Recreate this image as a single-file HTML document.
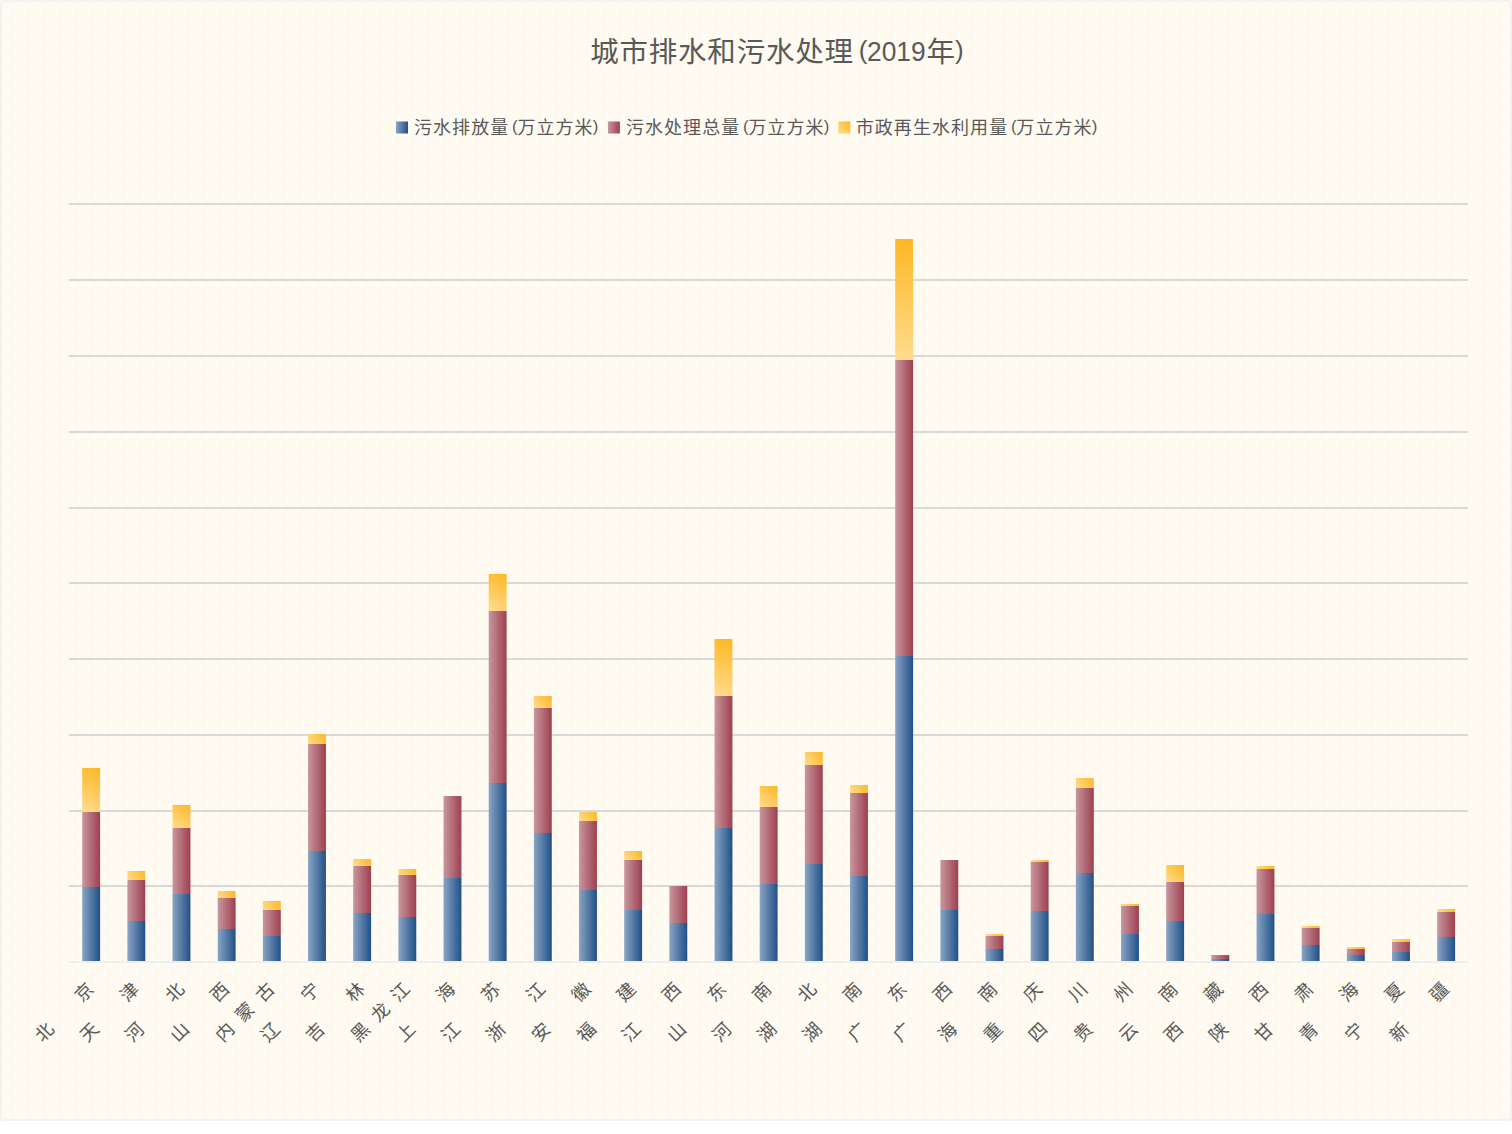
<!DOCTYPE html>
<html lang="zh-CN"><head><meta charset="utf-8"><title>城市排水和污水处理(2019年)</title>
<style>html,body{margin:0;padding:0;background:#fff;}body{width:1512px;height:1134px;overflow:hidden;}svg{display:block;}text{font-family:"Liberation Sans", "Noto Sans CJK SC", sans-serif;fill:#595959;}</style></head><body>
<svg width="1512" height="1134" viewBox="0 0 1512 1134">
<defs>
<pattern id="divot" x="0" y="0" width="16" height="16" patternUnits="userSpaceOnUse"><rect width="16" height="16" fill="#FEFAF0"/>
<rect x="8" y="8" width="2" height="2" fill="#FFFFFF"/>
<rect x="6" y="10" width="2" height="2" fill="#FFFFFF"/>
<rect x="8" y="12" width="2" height="2" fill="#FFFFFF"/>
<rect x="14" y="0" width="2" height="2" fill="#FFFFFF"/>
<rect x="0" y="2" width="2" height="2" fill="#FFFFFF"/>
<rect x="14" y="4" width="2" height="2" fill="#FFFFFF"/>
</pattern>
<linearGradient id="gB" x1="0" y1="0" x2="1" y2="0"><stop offset="0" stop-color="#8AA5C3"/><stop offset="1" stop-color="#205088"/></linearGradient>
<linearGradient id="gR" x1="0" y1="0" x2="1" y2="0"><stop offset="0" stop-color="#C8989F"/><stop offset="1" stop-color="#9E3F4F"/></linearGradient>
<linearGradient id="gY" x1="0" y1="1" x2="1" y2="0"><stop offset="0" stop-color="#FFDC8E"/><stop offset="1" stop-color="#FDB724"/></linearGradient>
</defs>
<rect x="0" y="0" width="1512" height="1121" rx="2" ry="2" fill="#F2F2F2"/>
<rect x="2" y="2" width="1508" height="1117" fill="url(#divot)"/>
<rect x="69" y="203" width="1399" height="2" fill="#D9D9D9"/>
<rect x="69" y="279" width="1399" height="2" fill="#D9D9D9"/>
<rect x="69" y="355" width="1399" height="2" fill="#D9D9D9"/>
<rect x="69" y="431" width="1399" height="2" fill="#D9D9D9"/>
<rect x="69" y="507" width="1399" height="2" fill="#D9D9D9"/>
<rect x="69" y="582" width="1399" height="2" fill="#D9D9D9"/>
<rect x="69" y="658" width="1399" height="2" fill="#D9D9D9"/>
<rect x="69" y="734" width="1399" height="2" fill="#D9D9D9"/>
<rect x="69" y="810" width="1399" height="2" fill="#D9D9D9"/>
<rect x="69" y="885" width="1399" height="2" fill="#D9D9D9"/>
<rect x="69" y="961" width="1399" height="2" fill="#EEEEEE"/>
<g>
<rect x="82.20" y="887" width="17.90" height="74" fill="url(#gB)"/>
<rect x="82.20" y="812" width="17.90" height="75" fill="url(#gR)"/>
<linearGradient id="y0" gradientUnits="userSpaceOnUse" x1="82.20" y1="812" x2="100.10" y2="768"><stop offset="0" stop-color="#FFDC8E"/><stop offset="1" stop-color="#FDB724"/></linearGradient>
<rect x="82.20" y="768" width="17.90" height="44" fill="url(#y0)"/>
</g>
<g>
<rect x="127.37" y="921" width="17.90" height="40" fill="url(#gB)"/>
<rect x="127.37" y="880" width="17.90" height="41" fill="url(#gR)"/>
<linearGradient id="y1" gradientUnits="userSpaceOnUse" x1="127.37" y1="880" x2="145.27" y2="871"><stop offset="0" stop-color="#FFDC8E"/><stop offset="1" stop-color="#FDB724"/></linearGradient>
<rect x="127.37" y="871" width="17.90" height="9" fill="url(#y1)"/>
</g>
<g>
<rect x="172.53" y="894" width="17.90" height="67" fill="url(#gB)"/>
<rect x="172.53" y="828" width="17.90" height="66" fill="url(#gR)"/>
<linearGradient id="y2" gradientUnits="userSpaceOnUse" x1="172.53" y1="828" x2="190.43" y2="805"><stop offset="0" stop-color="#FFDC8E"/><stop offset="1" stop-color="#FDB724"/></linearGradient>
<rect x="172.53" y="805" width="17.90" height="23" fill="url(#y2)"/>
</g>
<g>
<rect x="217.70" y="929" width="17.90" height="32" fill="url(#gB)"/>
<rect x="217.70" y="898" width="17.90" height="31" fill="url(#gR)"/>
<linearGradient id="y3" gradientUnits="userSpaceOnUse" x1="217.70" y1="898" x2="235.60" y2="891"><stop offset="0" stop-color="#FFDC8E"/><stop offset="1" stop-color="#FDB724"/></linearGradient>
<rect x="217.70" y="891" width="17.90" height="7" fill="url(#y3)"/>
</g>
<g>
<rect x="262.87" y="936" width="17.90" height="25" fill="url(#gB)"/>
<rect x="262.87" y="910" width="17.90" height="26" fill="url(#gR)"/>
<linearGradient id="y4" gradientUnits="userSpaceOnUse" x1="262.87" y1="910" x2="280.77" y2="901"><stop offset="0" stop-color="#FFDC8E"/><stop offset="1" stop-color="#FDB724"/></linearGradient>
<rect x="262.87" y="901" width="17.90" height="9" fill="url(#y4)"/>
</g>
<g>
<rect x="308.03" y="851" width="17.90" height="110" fill="url(#gB)"/>
<rect x="308.03" y="744" width="17.90" height="107" fill="url(#gR)"/>
<linearGradient id="y5" gradientUnits="userSpaceOnUse" x1="308.03" y1="744" x2="325.93" y2="734"><stop offset="0" stop-color="#FFDC8E"/><stop offset="1" stop-color="#FDB724"/></linearGradient>
<rect x="308.03" y="734" width="17.90" height="10" fill="url(#y5)"/>
</g>
<g>
<rect x="353.20" y="913" width="17.90" height="48" fill="url(#gB)"/>
<rect x="353.20" y="866" width="17.90" height="47" fill="url(#gR)"/>
<linearGradient id="y6" gradientUnits="userSpaceOnUse" x1="353.20" y1="866" x2="371.10" y2="859"><stop offset="0" stop-color="#FFDC8E"/><stop offset="1" stop-color="#FDB724"/></linearGradient>
<rect x="353.20" y="859" width="17.90" height="7" fill="url(#y6)"/>
</g>
<g>
<rect x="398.37" y="917" width="17.90" height="44" fill="url(#gB)"/>
<rect x="398.37" y="875" width="17.90" height="42" fill="url(#gR)"/>
<linearGradient id="y7" gradientUnits="userSpaceOnUse" x1="398.37" y1="875" x2="416.27" y2="869"><stop offset="0" stop-color="#FFDC8E"/><stop offset="1" stop-color="#FDB724"/></linearGradient>
<rect x="398.37" y="869" width="17.90" height="6" fill="url(#y7)"/>
</g>
<g>
<rect x="443.53" y="878" width="17.90" height="83" fill="url(#gB)"/>
<rect x="443.53" y="796" width="17.90" height="82" fill="url(#gR)"/>
</g>
<g>
<rect x="488.70" y="783" width="17.90" height="178" fill="url(#gB)"/>
<rect x="488.70" y="611" width="17.90" height="172" fill="url(#gR)"/>
<linearGradient id="y9" gradientUnits="userSpaceOnUse" x1="488.70" y1="611" x2="506.60" y2="574"><stop offset="0" stop-color="#FFDC8E"/><stop offset="1" stop-color="#FDB724"/></linearGradient>
<rect x="488.70" y="574" width="17.90" height="37" fill="url(#y9)"/>
</g>
<g>
<rect x="533.87" y="833" width="17.90" height="128" fill="url(#gB)"/>
<rect x="533.87" y="708" width="17.90" height="125" fill="url(#gR)"/>
<linearGradient id="y10" gradientUnits="userSpaceOnUse" x1="533.87" y1="708" x2="551.77" y2="696"><stop offset="0" stop-color="#FFDC8E"/><stop offset="1" stop-color="#FDB724"/></linearGradient>
<rect x="533.87" y="696" width="17.90" height="12" fill="url(#y10)"/>
</g>
<g>
<rect x="579.03" y="890" width="17.90" height="71" fill="url(#gB)"/>
<rect x="579.03" y="821" width="17.90" height="69" fill="url(#gR)"/>
<linearGradient id="y11" gradientUnits="userSpaceOnUse" x1="579.03" y1="821" x2="596.93" y2="812"><stop offset="0" stop-color="#FFDC8E"/><stop offset="1" stop-color="#FDB724"/></linearGradient>
<rect x="579.03" y="812" width="17.90" height="9" fill="url(#y11)"/>
</g>
<g>
<rect x="624.20" y="910" width="17.90" height="51" fill="url(#gB)"/>
<rect x="624.20" y="860" width="17.90" height="50" fill="url(#gR)"/>
<linearGradient id="y12" gradientUnits="userSpaceOnUse" x1="624.20" y1="860" x2="642.10" y2="851"><stop offset="0" stop-color="#FFDC8E"/><stop offset="1" stop-color="#FDB724"/></linearGradient>
<rect x="624.20" y="851" width="17.90" height="9" fill="url(#y12)"/>
</g>
<g>
<rect x="669.37" y="923" width="17.90" height="38" fill="url(#gB)"/>
<rect x="669.37" y="886" width="17.90" height="37" fill="url(#gR)"/>
</g>
<g>
<rect x="714.53" y="828" width="17.90" height="133" fill="url(#gB)"/>
<rect x="714.53" y="696" width="17.90" height="132" fill="url(#gR)"/>
<linearGradient id="y14" gradientUnits="userSpaceOnUse" x1="714.53" y1="696" x2="732.43" y2="639"><stop offset="0" stop-color="#FFDC8E"/><stop offset="1" stop-color="#FDB724"/></linearGradient>
<rect x="714.53" y="639" width="17.90" height="57" fill="url(#y14)"/>
</g>
<g>
<rect x="759.70" y="884" width="17.90" height="77" fill="url(#gB)"/>
<rect x="759.70" y="807" width="17.90" height="77" fill="url(#gR)"/>
<linearGradient id="y15" gradientUnits="userSpaceOnUse" x1="759.70" y1="807" x2="777.60" y2="786"><stop offset="0" stop-color="#FFDC8E"/><stop offset="1" stop-color="#FDB724"/></linearGradient>
<rect x="759.70" y="786" width="17.90" height="21" fill="url(#y15)"/>
</g>
<g>
<rect x="804.87" y="864" width="17.90" height="97" fill="url(#gB)"/>
<rect x="804.87" y="765" width="17.90" height="99" fill="url(#gR)"/>
<linearGradient id="y16" gradientUnits="userSpaceOnUse" x1="804.87" y1="765" x2="822.77" y2="752"><stop offset="0" stop-color="#FFDC8E"/><stop offset="1" stop-color="#FDB724"/></linearGradient>
<rect x="804.87" y="752" width="17.90" height="13" fill="url(#y16)"/>
</g>
<g>
<rect x="850.03" y="876" width="17.90" height="85" fill="url(#gB)"/>
<rect x="850.03" y="793" width="17.90" height="83" fill="url(#gR)"/>
<linearGradient id="y17" gradientUnits="userSpaceOnUse" x1="850.03" y1="793" x2="867.93" y2="785"><stop offset="0" stop-color="#FFDC8E"/><stop offset="1" stop-color="#FDB724"/></linearGradient>
<rect x="850.03" y="785" width="17.90" height="8" fill="url(#y17)"/>
</g>
<g>
<rect x="895.20" y="656" width="17.90" height="305" fill="url(#gB)"/>
<rect x="895.20" y="360" width="17.90" height="296" fill="url(#gR)"/>
<linearGradient id="y18" gradientUnits="userSpaceOnUse" x1="895.20" y1="360" x2="913.10" y2="239"><stop offset="0" stop-color="#FFDC8E"/><stop offset="1" stop-color="#FDB724"/></linearGradient>
<rect x="895.20" y="239" width="17.90" height="121" fill="url(#y18)"/>
</g>
<g>
<rect x="940.37" y="910" width="17.90" height="51" fill="url(#gB)"/>
<rect x="940.37" y="860" width="17.90" height="50" fill="url(#gR)"/>
</g>
<g>
<rect x="985.53" y="949" width="17.90" height="12" fill="url(#gB)"/>
<rect x="985.53" y="936" width="17.90" height="13" fill="url(#gR)"/>
<linearGradient id="y20" gradientUnits="userSpaceOnUse" x1="985.53" y1="936" x2="1003.43" y2="934"><stop offset="0" stop-color="#FFDC8E"/><stop offset="1" stop-color="#FDB724"/></linearGradient>
<rect x="985.53" y="934" width="17.90" height="2" fill="url(#y20)"/>
</g>
<g>
<rect x="1030.70" y="911" width="17.90" height="50" fill="url(#gB)"/>
<rect x="1030.70" y="862" width="17.90" height="49" fill="url(#gR)"/>
<linearGradient id="y21" gradientUnits="userSpaceOnUse" x1="1030.70" y1="862" x2="1048.60" y2="860"><stop offset="0" stop-color="#FFDC8E"/><stop offset="1" stop-color="#FDB724"/></linearGradient>
<rect x="1030.70" y="860" width="17.90" height="2" fill="url(#y21)"/>
</g>
<g>
<rect x="1075.87" y="873" width="17.90" height="88" fill="url(#gB)"/>
<rect x="1075.87" y="788" width="17.90" height="85" fill="url(#gR)"/>
<linearGradient id="y22" gradientUnits="userSpaceOnUse" x1="1075.87" y1="788" x2="1093.77" y2="778"><stop offset="0" stop-color="#FFDC8E"/><stop offset="1" stop-color="#FDB724"/></linearGradient>
<rect x="1075.87" y="778" width="17.90" height="10" fill="url(#y22)"/>
</g>
<g>
<rect x="1121.03" y="934" width="17.90" height="27" fill="url(#gB)"/>
<rect x="1121.03" y="906" width="17.90" height="28" fill="url(#gR)"/>
<linearGradient id="y23" gradientUnits="userSpaceOnUse" x1="1121.03" y1="906" x2="1138.93" y2="904"><stop offset="0" stop-color="#FFDC8E"/><stop offset="1" stop-color="#FDB724"/></linearGradient>
<rect x="1121.03" y="904" width="17.90" height="2" fill="url(#y23)"/>
</g>
<g>
<rect x="1166.20" y="921" width="17.90" height="40" fill="url(#gB)"/>
<rect x="1166.20" y="882" width="17.90" height="39" fill="url(#gR)"/>
<linearGradient id="y24" gradientUnits="userSpaceOnUse" x1="1166.20" y1="882" x2="1184.10" y2="865"><stop offset="0" stop-color="#FFDC8E"/><stop offset="1" stop-color="#FDB724"/></linearGradient>
<rect x="1166.20" y="865" width="17.90" height="17" fill="url(#y24)"/>
</g>
<g>
<rect x="1211.37" y="959" width="17.90" height="2" fill="url(#gB)"/>
<rect x="1211.37" y="955" width="17.90" height="4" fill="url(#gR)"/>
</g>
<g>
<rect x="1256.53" y="914" width="17.90" height="47" fill="url(#gB)"/>
<rect x="1256.53" y="869" width="17.90" height="45" fill="url(#gR)"/>
<linearGradient id="y26" gradientUnits="userSpaceOnUse" x1="1256.53" y1="869" x2="1274.43" y2="866"><stop offset="0" stop-color="#FFDC8E"/><stop offset="1" stop-color="#FDB724"/></linearGradient>
<rect x="1256.53" y="866" width="17.90" height="3" fill="url(#y26)"/>
</g>
<g>
<rect x="1301.70" y="945" width="17.90" height="16" fill="url(#gB)"/>
<rect x="1301.70" y="928" width="17.90" height="17" fill="url(#gR)"/>
<linearGradient id="y27" gradientUnits="userSpaceOnUse" x1="1301.70" y1="928" x2="1319.60" y2="926"><stop offset="0" stop-color="#FFDC8E"/><stop offset="1" stop-color="#FDB724"/></linearGradient>
<rect x="1301.70" y="926" width="17.90" height="2" fill="url(#y27)"/>
</g>
<g>
<rect x="1346.87" y="955" width="17.90" height="6" fill="url(#gB)"/>
<rect x="1346.87" y="949" width="17.90" height="6" fill="url(#gR)"/>
<linearGradient id="y28" gradientUnits="userSpaceOnUse" x1="1346.87" y1="949" x2="1364.77" y2="947"><stop offset="0" stop-color="#FFDC8E"/><stop offset="1" stop-color="#FDB724"/></linearGradient>
<rect x="1346.87" y="947" width="17.90" height="2" fill="url(#y28)"/>
</g>
<g>
<rect x="1392.03" y="952" width="17.90" height="9" fill="url(#gB)"/>
<rect x="1392.03" y="942" width="17.90" height="10" fill="url(#gR)"/>
<linearGradient id="y29" gradientUnits="userSpaceOnUse" x1="1392.03" y1="942" x2="1409.93" y2="939"><stop offset="0" stop-color="#FFDC8E"/><stop offset="1" stop-color="#FDB724"/></linearGradient>
<rect x="1392.03" y="939" width="17.90" height="3" fill="url(#y29)"/>
</g>
<g>
<rect x="1437.20" y="937" width="17.90" height="24" fill="url(#gB)"/>
<rect x="1437.20" y="912" width="17.90" height="25" fill="url(#gR)"/>
<linearGradient id="y30" gradientUnits="userSpaceOnUse" x1="1437.20" y1="912" x2="1455.10" y2="909"><stop offset="0" stop-color="#FFDC8E"/><stop offset="1" stop-color="#FDB724"/></linearGradient>
<rect x="1437.20" y="909" width="17.90" height="3" fill="url(#y30)"/>
</g>
<text y="62.0" font-size="28.5" text-anchor="middle" x="604.4 633.8 663.0 692.3 721.6 750.9 780.2 809.5 838.8">城市排水和污水处理</text>
<text y="58.5" font-size="26" text-anchor="middle" x="863.1">(</text>
<text y="61.2" font-size="28.2" x="867.0" textLength="58.6" lengthAdjust="spacingAndGlyphs">2019</text>
<text y="62.0" font-size="28.5" text-anchor="middle" x="940.8">年</text>
<text y="58.5" font-size="26" text-anchor="middle" x="959.4">)</text>
<rect x="396.0" y="121.5" width="12" height="12" fill="url(#gB)"/>
<text y="134.0" font-size="18.0" text-anchor="middle" x="423.0 442.1 461.1 480.2 499.3">污水排放量</text>
<text y="131.8" font-size="16.8" text-anchor="middle" x="514.9">(</text>
<text y="134.0" font-size="18.0" text-anchor="middle" x="526.4 545.5 564.5 583.6">万立方米</text>
<text y="131.8" font-size="16.8" text-anchor="middle" x="595.6">)</text>
<rect x="607.9" y="121.5" width="12" height="12" fill="url(#gR)"/>
<text y="134.0" font-size="18.0" text-anchor="middle" x="634.9 654.0 673.0 692.1 711.2 730.2">污水处理总量</text>
<text y="131.8" font-size="16.8" text-anchor="middle" x="745.9">(</text>
<text y="134.0" font-size="18.0" text-anchor="middle" x="757.4 776.4 795.5 814.6">万立方米</text>
<text y="131.8" font-size="16.8" text-anchor="middle" x="826.6">)</text>
<rect x="838.3" y="121.5" width="12" height="12" fill="url(#gY)"/>
<text y="134.0" font-size="18.0" text-anchor="middle" x="864.7 883.8 902.8 921.9 941.0 960.1 979.1 998.2">市政再生水利用量</text>
<text y="131.8" font-size="16.8" text-anchor="middle" x="1013.8">(</text>
<text y="134.0" font-size="18.0" text-anchor="middle" x="1025.3 1044.4 1063.4 1082.5">万立方米</text>
<text y="131.8" font-size="16.8" text-anchor="middle" x="1094.5">)</text>
<text transform="translate(44.3 1032.1) rotate(-45)" y="6.4" font-size="18.0" text-anchor="middle" x="0.0 56.4">北京</text>
<text transform="translate(89.4 1032.1) rotate(-45)" y="6.4" font-size="18.0" text-anchor="middle" x="0.0 56.4">天津</text>
<text transform="translate(134.6 1032.1) rotate(-45)" y="6.4" font-size="18.0" text-anchor="middle" x="0.0 56.4">河北</text>
<text transform="translate(179.7 1032.1) rotate(-45)" y="6.4" font-size="18.0" text-anchor="middle" x="0.0 56.4">山西</text>
<text transform="translate(224.9 1032.1) rotate(-45)" y="6.4" font-size="18.0" text-anchor="middle" x="0.0 28.2 56.4">内蒙古</text>
<text transform="translate(270.1 1032.1) rotate(-45)" y="6.4" font-size="18.0" text-anchor="middle" x="0.0 56.4">辽宁</text>
<text transform="translate(315.2 1032.1) rotate(-45)" y="6.4" font-size="18.0" text-anchor="middle" x="0.0 56.4">吉林</text>
<text transform="translate(360.4 1032.1) rotate(-45)" y="6.4" font-size="18.0" text-anchor="middle" x="0.0 28.2 56.4">黑龙江</text>
<text transform="translate(405.6 1032.1) rotate(-45)" y="6.4" font-size="18.0" text-anchor="middle" x="0.0 56.4">上海</text>
<text transform="translate(450.8 1032.1) rotate(-45)" y="6.4" font-size="18.0" text-anchor="middle" x="0.0 56.4">江苏</text>
<text transform="translate(495.9 1032.1) rotate(-45)" y="6.4" font-size="18.0" text-anchor="middle" x="0.0 56.4">浙江</text>
<text transform="translate(541.1 1032.1) rotate(-45)" y="6.4" font-size="18.0" text-anchor="middle" x="0.0 56.4">安徽</text>
<text transform="translate(586.3 1032.1) rotate(-45)" y="6.4" font-size="18.0" text-anchor="middle" x="0.0 56.4">福建</text>
<text transform="translate(631.4 1032.1) rotate(-45)" y="6.4" font-size="18.0" text-anchor="middle" x="0.0 56.4">江西</text>
<text transform="translate(676.6 1032.1) rotate(-45)" y="6.4" font-size="18.0" text-anchor="middle" x="0.0 56.4">山东</text>
<text transform="translate(721.8 1032.1) rotate(-45)" y="6.4" font-size="18.0" text-anchor="middle" x="0.0 56.4">河南</text>
<text transform="translate(766.9 1032.1) rotate(-45)" y="6.4" font-size="18.0" text-anchor="middle" x="0.0 56.4">湖北</text>
<text transform="translate(812.1 1032.1) rotate(-45)" y="6.4" font-size="18.0" text-anchor="middle" x="0.0 56.4">湖南</text>
<text transform="translate(857.3 1032.1) rotate(-45)" y="6.4" font-size="18.0" text-anchor="middle" x="0.0 56.4">广东</text>
<text transform="translate(902.4 1032.1) rotate(-45)" y="6.4" font-size="18.0" text-anchor="middle" x="0.0 56.4">广西</text>
<text transform="translate(947.6 1032.1) rotate(-45)" y="6.4" font-size="18.0" text-anchor="middle" x="0.0 56.4">海南</text>
<text transform="translate(992.8 1032.1) rotate(-45)" y="6.4" font-size="18.0" text-anchor="middle" x="0.0 56.4">重庆</text>
<text transform="translate(1037.9 1032.1) rotate(-45)" y="6.4" font-size="18.0" text-anchor="middle" x="0.0 56.4">四川</text>
<text transform="translate(1083.1 1032.1) rotate(-45)" y="6.4" font-size="18.0" text-anchor="middle" x="0.0 56.4">贵州</text>
<text transform="translate(1128.2 1032.1) rotate(-45)" y="6.4" font-size="18.0" text-anchor="middle" x="0.0 56.4">云南</text>
<text transform="translate(1173.4 1032.1) rotate(-45)" y="6.4" font-size="18.0" text-anchor="middle" x="0.0 56.4">西藏</text>
<text transform="translate(1218.6 1032.1) rotate(-45)" y="6.4" font-size="18.0" text-anchor="middle" x="0.0 56.4">陕西</text>
<text transform="translate(1263.8 1032.1) rotate(-45)" y="6.4" font-size="18.0" text-anchor="middle" x="0.0 56.4">甘肃</text>
<text transform="translate(1308.9 1032.1) rotate(-45)" y="6.4" font-size="18.0" text-anchor="middle" x="0.0 56.4">青海</text>
<text transform="translate(1354.1 1032.1) rotate(-45)" y="6.4" font-size="18.0" text-anchor="middle" x="0.0 56.4">宁夏</text>
<text transform="translate(1399.2 1032.1) rotate(-45)" y="6.4" font-size="18.0" text-anchor="middle" x="0.0 56.4">新疆</text>
</svg></body></html>
